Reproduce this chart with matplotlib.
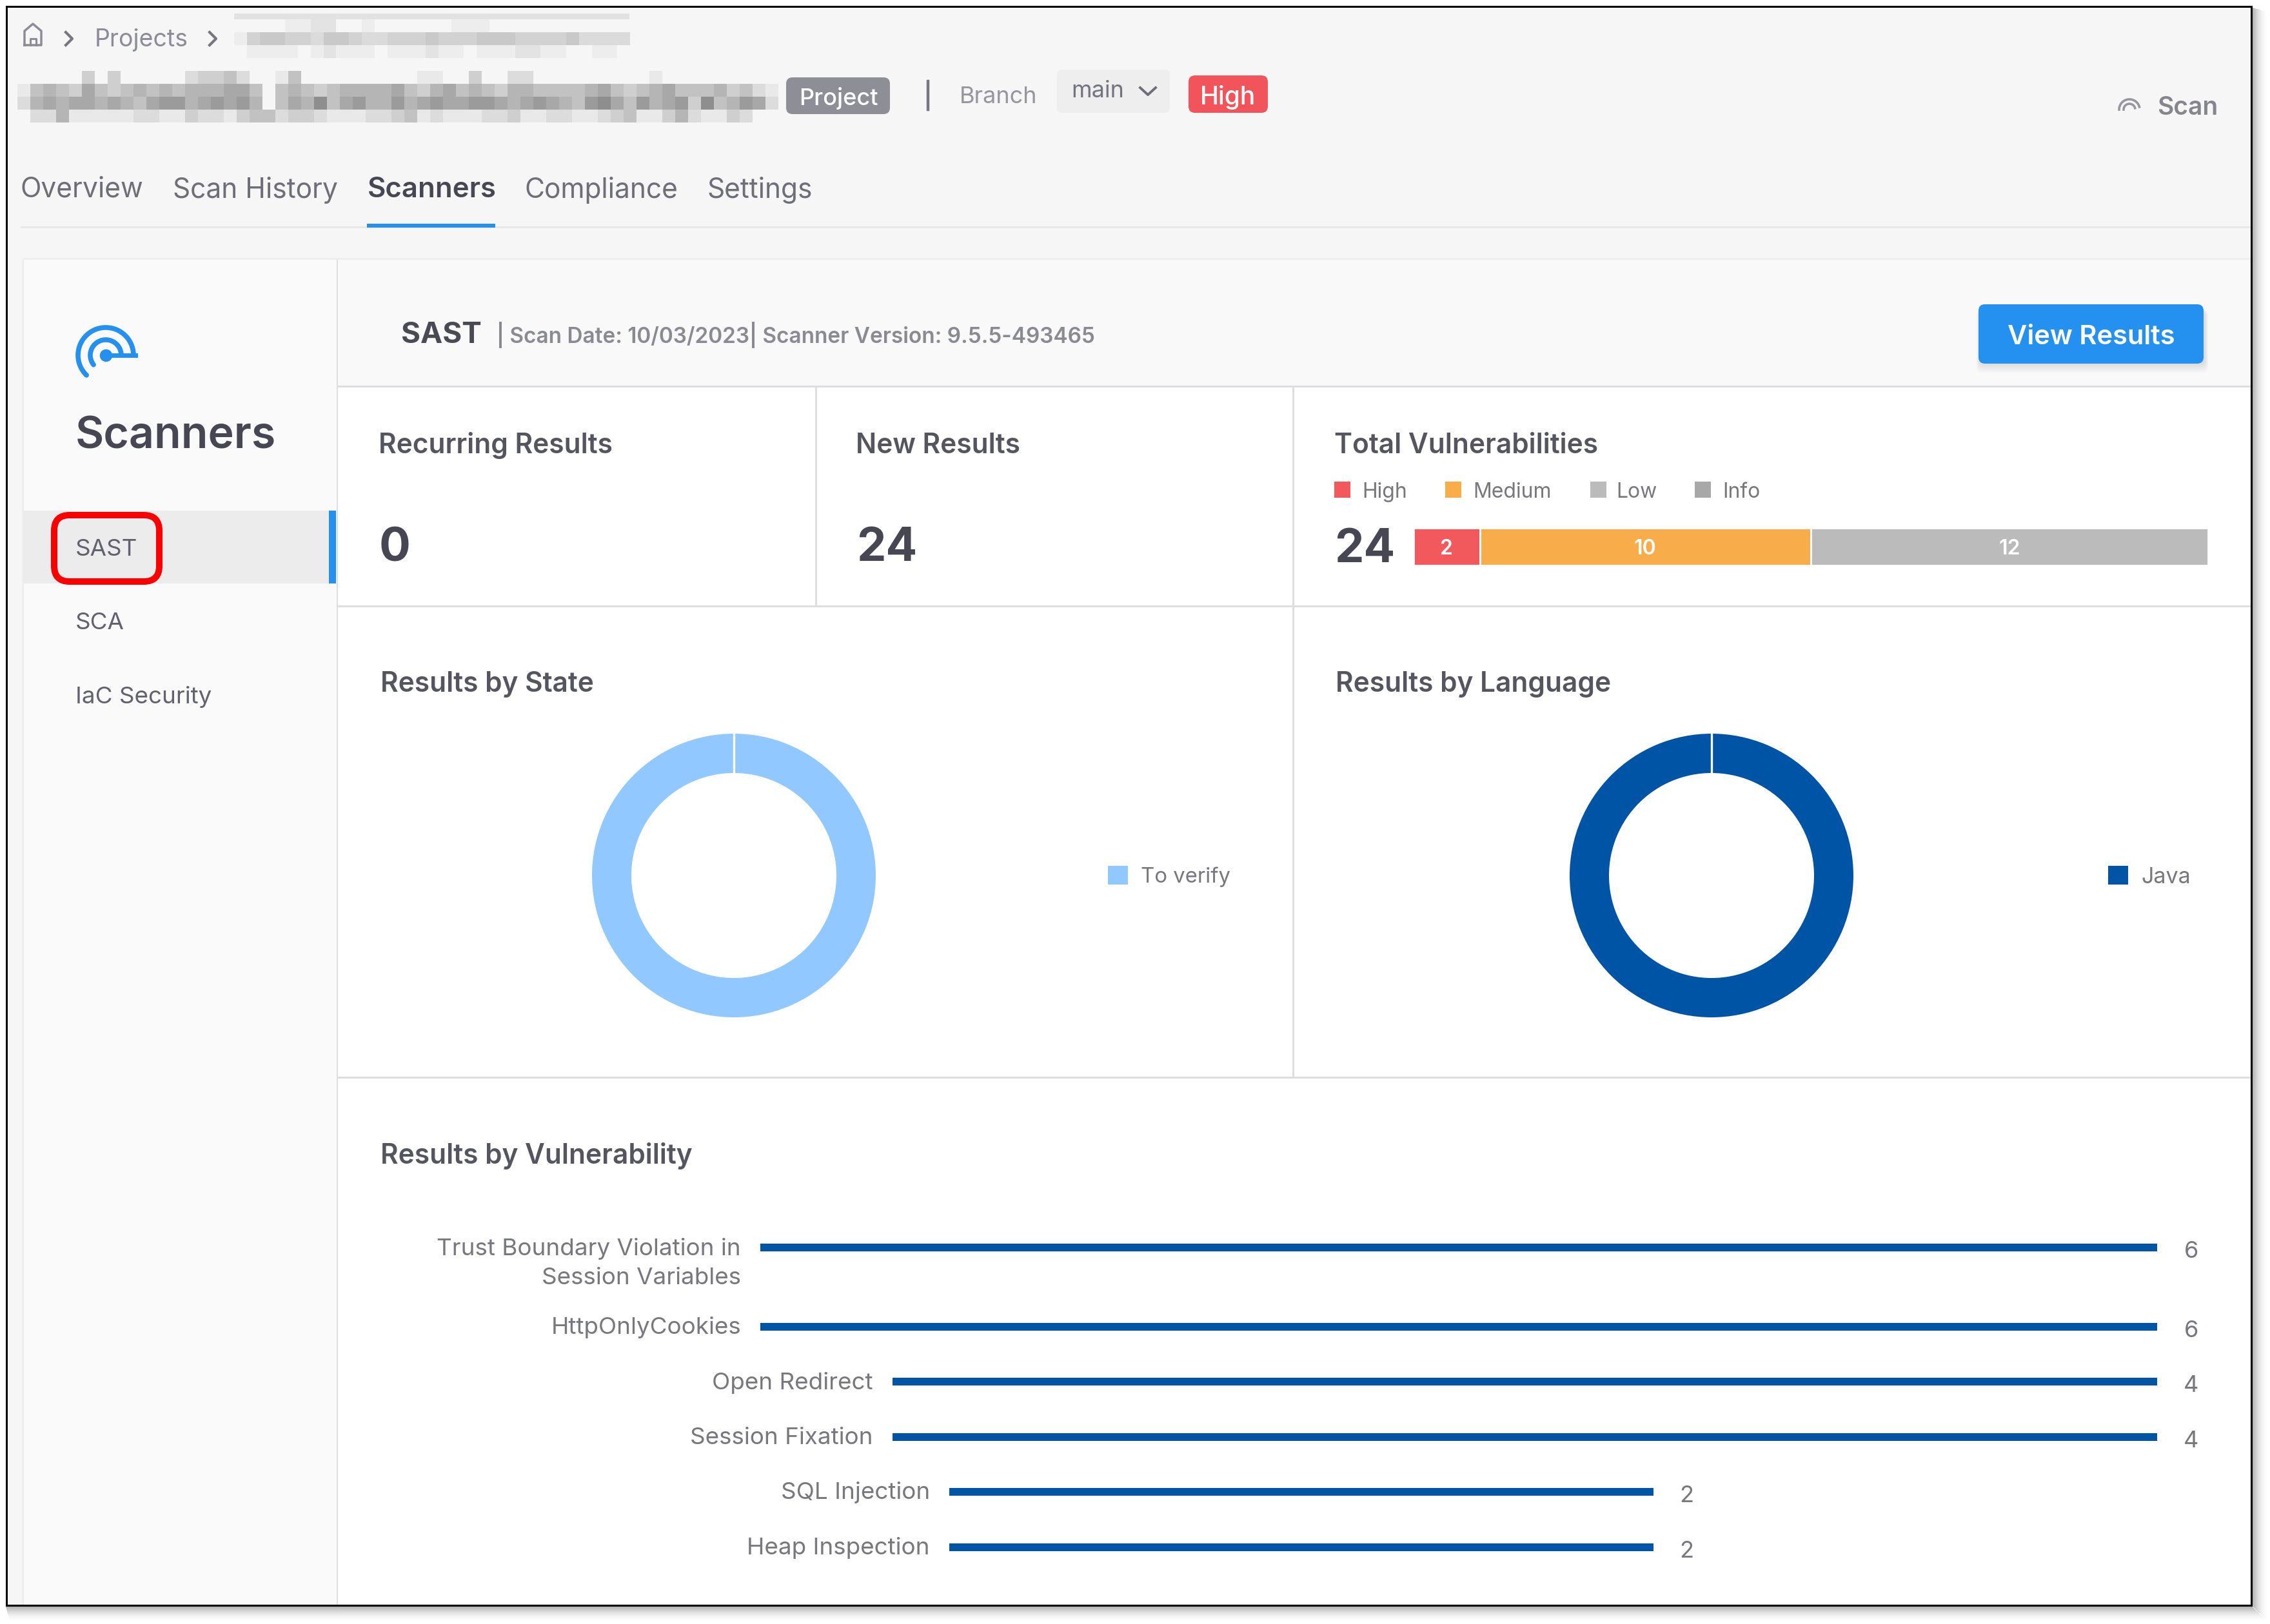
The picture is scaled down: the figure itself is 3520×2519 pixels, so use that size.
import numpy as np
import matplotlib
matplotlib.use('Agg')
import matplotlib.pyplot as plt
from matplotlib.patches import FancyBboxPatch, Rectangle

plt.rcParams['font.family'] = ['Inter', 'DejaVu Sans']

W, H = 3520, 2519

tabs = ['Overview', 'Scan History', 'Scanners', 'Compliance', 'Settings']
scanner_items = ['SAST', 'SCA', 'IaC Security']

recurring_results = 0
new_results = 24
severity_names = ['High', 'Medium', 'Low', 'Info']
severity_counts = [2, 10, 12, 0]
severity_colors = ['#F2595D', '#F9AC4A', '#BBBBBB', '#A8A8A8']

state_names = ['To verify']
state_counts = [24]
language_names = ['Java']
language_counts = [24]

vuln_names = ['Trust Boundary Violation in\nSession Variables', 'HttpOnlyCookies', 'Open Redirect',
              'Session Fixation', 'SQL Injection', 'Heap Inspection']
vuln_counts = [6, 6, 4, 4, 2, 2]

# pixel layout of the vulnerability rows (the app lays each row out by its label)
row_y = [1935, 2058, 2143, 2229, 2314, 2400]
row_left = [1179, 1179, 1384, 1384, 1472, 1472]
row_right = [3345, 3345, 3345, 3345, 2564, 2564]

# mosaic over the hidden project name, one char per cell, 0 = page grey
title_blur = [
    '00000303000002334200140000000001100300220000000001000000000',
    '14543643454545556640454345555643564543554444564345644453421',
    '25656656546775676750465846755756766776567654786475673845762',
    '02251111122113221344233211122341211122311221123411352113200',
]
crumb_blur = [
    '0000112200100000011100000000000',
    '1455443554334445444555444453333',
    '0111101211101112110111221100110',
]

TEXT_DARK = '#474754'
TEXT_MID = '#6E6E78'
TEXT_SOFT = '#8C8C96'
BLUE = '#2490F0'
LINE = '#DEDEE2'
NAVY = '#0054A6'


def axes_px(x0, y0, x1, y1):
    """axes placed by pixel box, y measured from the top"""
    ax = fig.add_axes([x0 / W, 1 - y1 / H, (x1 - x0) / W, (y1 - y0) / H], zorder=2)
    ax.axis('off')
    return ax


def label(x, y, s, size, color=TEXT_MID, weight='normal', ha='left', **kw):
    ui.text(x, y, s, fontsize=size, color=color, fontweight=weight, ha=ha, va='center_baseline', **kw)


def box(x0, y0, x1, y1, color, z=1):
    ui.add_patch(Rectangle((x0, y0), x1 - x0, y1 - y0, facecolor=color, edgecolor='none', zorder=z))


def rounded(x0, y0, x1, y1, color, r=10, z=2, **kw):
    ui.add_patch(FancyBboxPatch((x0, y0), x1 - x0, y1 - y0, boxstyle=f'round,pad=0,rounding_size={r}',
                                facecolor=color, edgecolor=kw.pop('edge', 'none'), zorder=z, **kw))


def mosaic(rows, x0, y0, cell, step):
    levels = np.array([[246 - int(c) * step for c in r] for r in rows], dtype=float)
    ui.imshow(levels, cmap='gray', vmin=0, vmax=255, interpolation='nearest', aspect='auto', zorder=2,
              extent=(x0, x0 + cell * levels.shape[1], y0 + 20 * levels.shape[0], y0))


fig = plt.figure(figsize=(W / 100, H / 100), dpi=100, facecolor='white')
ui = fig.add_axes([0, 0, 1, 1], zorder=0)

# screenshot frame with soft shadow
for i in range(24):
    a = 0.30 * (1 - i / 24) ** 2
    box(9 + i * 0.3, 2492 + i, 3493 + i, 2493 + i, (0, 0, 0, a), z=0)
    box(3493 + i, 12 + i * 0.3, 3494 + i, 2492 + i, (0, 0, 0, a), z=0)
box(9, 9, 3493, 2492, '#F6F6F6')

# breadcrumb and project header
box(363, 21, 976, 30, '#E2E2E2', z=2)
mosaic(crumb_blur, 363, 30, 19.8, 9)
mosaic(title_blur, 27, 110, 20, 13)
ui.plot([38, 38, 51, 64, 64, 38], [70, 48, 37, 48, 70, 70], color='#8C8C96', lw=2.5, zorder=3)
ui.plot([47, 47, 56, 56], [70, 60, 60, 70], color='#8C8C96', lw=2.2, zorder=3)
for cx in (107, 330):
    ui.plot([cx - 5, cx + 5, cx - 5], [50, 60, 70], color='#77777F', lw=3, zorder=3)
label(147, 58, 'Projects', 27, '#8C8C98')
rounded(1219, 120, 1380, 177, '#8E8E96')
label(1300, 149, 'Project', 26, 'white', ha='center', weight='medium')
ui.plot([1439, 1439], [126, 170], color='#777780', lw=3.2, zorder=3)
label(1488, 147, 'Branch', 26, '#96969E')
rounded(1639, 108, 1814, 175, '#EEEEEE', r=8)
label(1661, 138, 'main', 26, '#74747E')
ui.plot([1768, 1780, 1792], [136, 147, 136], color='#6E6E78', lw=2.8, zorder=3)
rounded(1843, 117, 1966, 175, '#F2545B', r=10)
label(1904, 147, 'High', 28, 'white', ha='center', weight='medium')

# scan icon and button text
t = np.radians(np.linspace(180, 345, 30))
for r in (16, 9):
    ui.plot(3302 + r * np.cos(t), 170 + r * np.sin(t), color='#96969E', lw=2.6, zorder=3)
label(3345, 163, 'Scan', 28, '#85858D', weight='semibold')

# tabs
tab_x = [32, 268, 570, 814, 1096]
for name, x in zip(tabs, tab_x):
    active = name == 'Scanners'
    label(x, 290, name, 31.5 if active else 30.6, TEXT_DARK if active else TEXT_MID,
          weight='semibold' if active else 'normal')
box(32, 351, 3490, 354, '#E8E8E8')
box(569, 347, 768, 353, BLUE, z=2)

# main card, sidebar and header
box(37, 403, 522, 2489, '#FAFAFA')
box(36, 400, 3490, 403, '#EEEEEE')
box(34, 403, 37, 2489, '#EEEEEE')
box(524, 403, 3490, 598, '#F9F9F9')
box(524, 600, 3490, 2489, 'white')
for x0, y0, x1, y1 in [(522, 403, 524, 2489), (524, 598, 3490, 601), (524, 939, 3490, 942),
                       (524, 1670, 3490, 1673), (1264, 600, 1267, 940), (2004, 600, 2007, 1671)]:
    box(x0, y0, x1, y1, LINE, z=2)

# logo
t = np.radians(np.linspace(142, 360, 50))
ui.plot(164 + 24 * np.cos(t), 551 + 24 * np.sin(t), color=BLUE, lw=5.5, zorder=3, solid_capstyle='round')
t = np.radians(np.linspace(134, 360, 60))
ui.plot(164 + 43 * np.cos(t), 551 + 43 * np.sin(t), color=BLUE, lw=5.5, zorder=3, solid_capstyle='round')
ui.plot([164, 210], [551, 551], color=BLUE, lw=5, zorder=3)
ui.plot([164], [551], 'o', color=BLUE, ms=13, zorder=3)

label(117, 670, 'Scanners', 49, TEXT_DARK, weight='semibold')
box(37, 792, 510, 905, '#ECECEC', z=2)
box(510, 792, 521, 905, BLUE, z=2)
for name, y in zip(scanner_items, [849, 963, 1077]):
    label(117, y, name, 26.5, '#62626E', zorder=4)
rounded(84, 799, 247, 902, 'none', r=24, z=5, edge='#FA0000', lw=7.2)

label(622, 516, 'SAST', 33, '#4A4A55', weight='bold')
label(770, 515, '| Scan Date: 10/03/2023| Scanner Version: 9.5.5-493465', 24, '#8A8A92', weight='semibold')
for i in range(10):
    rounded(3070 - i * .6, 480, 3419 + i * .6, 564 + i * 1.6, (0, 0, 0, 0.012), r=10, z=2)
rounded(3068, 472, 3417, 564, BLUE, r=10, z=3)
label(3243, 519, 'View Results', 30, 'white', ha='center', weight='semibold', zorder=4)

# summary panels
label(587, 687, 'Recurring Results', 30.5, '#55555F', weight='semibold')
label(588, 844, str(recurring_results), 52, TEXT_DARK, weight='bold')
label(1327, 687, 'New Results', 30.5, '#55555F', weight='semibold')
label(1328, 844, str(new_results), 52, TEXT_DARK, weight='bold')
label(2069, 687, 'Total Vulnerabilities', 30.5, '#55555F', weight='semibold')
for name, c, bx, tx in zip(severity_names, severity_colors, [2069, 2241, 2466, 2628], [2112, 2284, 2506, 2671]):
    box(bx, 747, bx + 25, 772, c, z=2)
    label(tx, 760, name, 23, '#77777F')
label(2069, 846, str(sum(severity_counts)), 52, TEXT_DARK, weight='bold')

bar_ax = axes_px(2192, 819, 3424, 877)
left = 0
for n, c in zip(severity_counts, severity_colors):
    if n:
        bar_ax.barh(0, n, left=left, height=1, color=c, edgecolor='white', linewidth=2)
        bar_ax.text(left + n / 2, 0, str(n), color='white', fontsize=23, fontweight='semibold',
                    ha='center', va='center_baseline')
    left += n
bar_ax.set_xlim(0, sum(severity_counts))
bar_ax.set_ylim(-.5, .5)

# donuts
label(590, 1057, 'Results by State', 30.5, '#55555F', weight='semibold')
label(2071, 1057, 'Results by Language', 30.5, '#55555F', weight='semibold')
for counts, names, color, cx, lx, fs in [(state_counts, state_names, '#90C8FF', 1138, 1718, 23.7),
                                         (language_counts, language_names, NAVY, 2654, 3269, 24.5)]:
    ax = axes_px(cx - 225, 1358 - 225, cx + 225, 1358 + 225)
    ax.pie(counts, radius=220 / 225, startangle=90, colors=[color], counterclock=False,
           wedgeprops=dict(width=61 / 225, edgecolor='none'))
    # hairline where the single slice closes on itself at 12 o'clock
    ax.plot([0, 0], [159 / 225, 221 / 225], color='white', lw=2.4)
    ax.set_xlim(-1, 1)
    ax.set_ylim(-1, 1)
    box(lx, 1343, lx + 31, 1372, color, z=2)
    label(lx + 51, 1357, names[0], fs, '#77777F')

# results by vulnerability, each row has its own track
label(590, 1788, 'Results by Vulnerability', 30.5, '#55555F', weight='semibold')
for name, n, y, x0, x1 in zip(vuln_names, vuln_counts, row_y, row_left, row_right):
    ax = axes_px(x0, y - 6, x1, y + 6)
    ax.barh(0, n, height=1, color=NAVY)
    ax.set_xlim(0, n)
    ax.set_ylim(-.5, .5)
    for k, line in enumerate(name.split('\n')):
        label(x0 - 30, y - 2 + k * 46, line, 26.5, '#77777F', ha='right')
    label(x1 + 53 if x1 > 3000 else x1 + 51, y + 3, str(n), 26, '#77777F', ha='center')

# black outline of the screenshot, on top of everything in the page
for x0, y0, x1, y1 in [(9, 9, 3493, 12), (9, 2489, 3493, 2492), (9, 9, 12, 2492), (3490, 9, 3493, 2492)]:
    box(x0, y0, x1, y1, 'black', z=6)

ui.set_xlim(0, W)
ui.set_ylim(H, 0)
ui.axis('off')

fig.savefig('out.png', dpi=100)
